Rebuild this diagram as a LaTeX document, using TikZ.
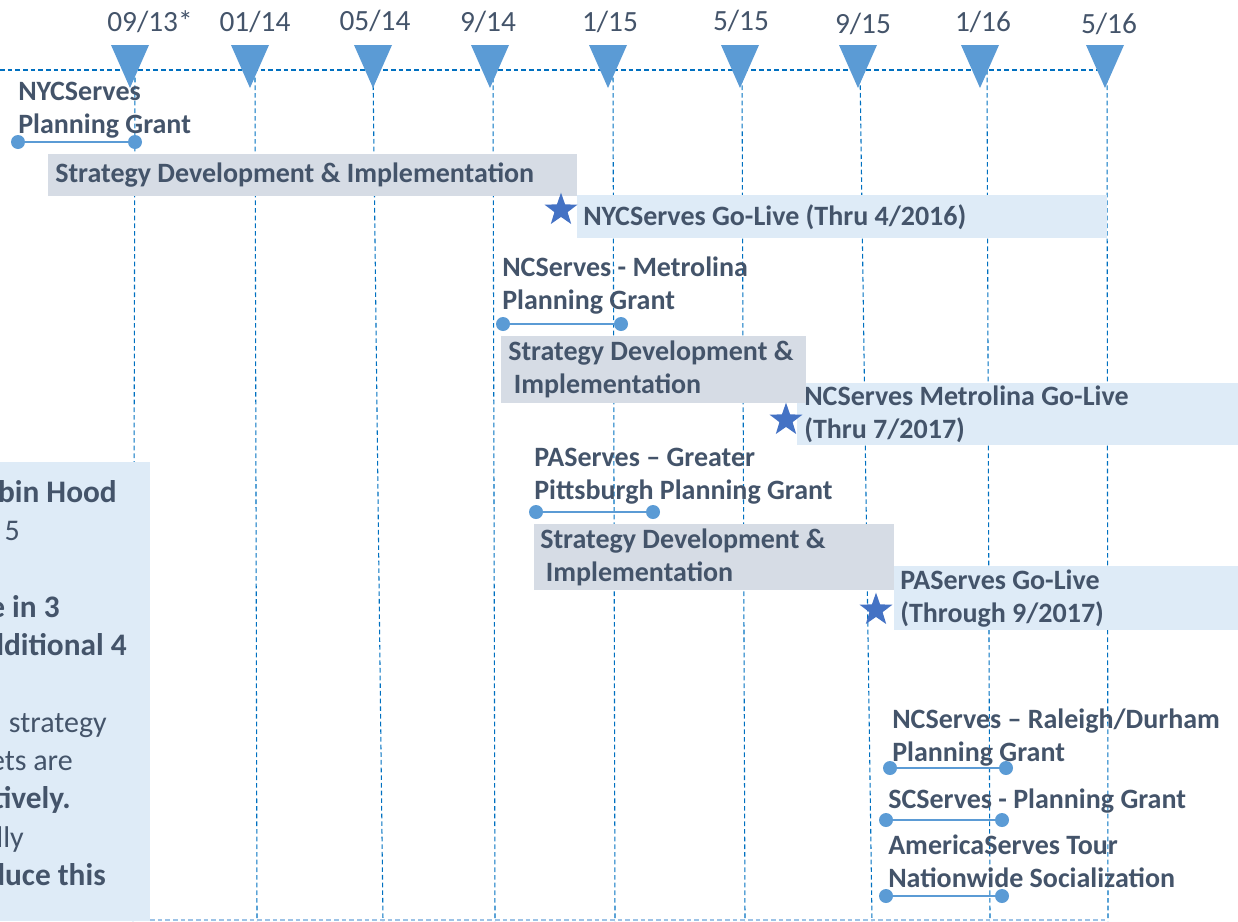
\documentclass[tikz,border=0pt]{standalone}
\usepackage{fontspec}
\setmainfont{Carlito}
\usetikzlibrary{shapes.geometric}

\definecolor{slate}{HTML}{44546A}
\definecolor{markblue}{HTML}{5B9BD5}
\definecolor{gridblue}{HTML}{0070C0}
\definecolor{stratgray}{HTML}{D6DCE5}
\definecolor{golivefill}{HTML}{DEEBF7}
\definecolor{starblue}{HTML}{4472C4}
\definecolor{edgeblue}{HTML}{9DC3E6}

\tikzset{
  datelabel/.style={anchor=base, inner sep=0, text=slate, font=\fontsize{22}{26}\selectfont},
  gridline/.style={draw=gridblue, line width=0.8pt, dash pattern=on 3.5pt off 2.25pt},
  grantlabel/.style={anchor=north west, align=left, inner sep=0, text=slate,
    font=\bfseries\fontsize{21}{24.75}\selectfont},
  grantdot/.style={circle, fill=markblue, minimum size=10.5pt, inner sep=0},
  grantbar/.style={draw=markblue, line width=1.5pt},
  stratbox/.style={fill=stratgray, anchor=north west, inner ysep=0, inner xsep=5.25pt, align=flush left,
    text=slate, font=\bfseries\fontsize{21}{24.75}\selectfont},
  golivebox/.style={stratbox, fill=golivefill},
  milestone/.style={star, star points=5, star point ratio=2.5, fill=starblue, draw=none,
    minimum size=26pt, inner sep=0},
  panelline/.style={anchor=base east, inner sep=0, text=slate}
}

\begin{document}
\begin{tikzpicture}[x=0.75pt,y=-0.75pt]
   \useasboundingbox (0,0) rectangle (1238,921);
   \clip (0,0) rectangle (1238,921);

   \draw[gridline] (0,70) -- (1107,70);
   \foreach \xt/\xb in {135/133,255/257,373/383,493/495,613/615,742/745,860/872,987/990,1107/1108}
             {
               \draw[gridline] (\xt,70) -- (\xb,921);
             }
   \draw[draw=edgeblue, line width=0.8pt, dash pattern=on 3.5pt off 2.25pt] (150,920) -- (1107,920);

   \foreach \x in {130,250,373,490,608,740,858,980,1105}
             {
               \fill[markblue] (\x-19,45) -- (\x+19,45) -- (\x,88) -- cycle;
             }
   \foreach \x/\y/\d [count=\i] in {150/31/09\slash13*,255/31/01\slash14,375/30/05\slash14,488/31/9\slash14,
             610/31/1\slash15,741/30/5\slash15,863/33/9\slash15,983/31/1\slash16,1109/33/5\slash16}
             {
               \node[datelabel] (date\i) at (\x,\y) {\d};
             }

   % NYCServes
   \node[grantlabel] (nycplan) at (18,82) {NYCServes\\Planning Grant};
   \node[grantdot] (nycA) at (18,142) {};
   \node[grantdot] (nycB) at (135,142) {};
   \draw[grantbar] (nycA) -- (nycB);
   \node[stratbox, text width=386.25pt, minimum height=31.5pt] (nycstrat) at (48,154)
        {Strategy Development \& Implementation};
   \node[golivebox, inner xsep=4.5pt, text width=388.5pt, minimum height=32.25pt] (nyclive) at (577,195)
        {NYCServes Go-Live (Thru 4/2016)};
   \node[milestone] (nycstar) at (561,210) {};

   % NCServes Metrolina
   \node[grantlabel] (ncplan) at (502,257) {NCServes - Metrolina\\Planning Grant};
   \node[grantdot] (ncA) at (503,324) {};
   \node[grantdot] (ncB) at (621,324) {};
   \draw[grantbar] (ncA) -- (ncB);
   \node[golivebox, text width=329.25pt, minimum height=46.5pt] (nclive) at (797,383)
        {NCServes Metrolina Go-Live\\(Thru 7/2017)};
   \node[stratbox, text width=218.25pt, minimum height=50.25pt] (ncstrat) at (501,336)
        {Strategy Development \&\\\hspace{0.2em}Implementation};
   \node[milestone] (ncstar) at (786,420) {};

   % PAServes
   \node[grantlabel] (paplan) at (534,448) {PAServes – Greater\\Pittsburgh Planning Grant};
   \node[grantdot] (paA) at (536,512) {};
   \node[grantdot] (paB) at (653,512) {};
   \draw[grantbar] (paA) -- (paB);
   \node[golivebox, inner xsep=4.5pt, text width=258pt, minimum height=48pt] (palive) at (894,566)
        {PAServes Go-Live\\(Through 9/2017)};
   \node[stratbox, inner xsep=4.5pt, text width=261pt, minimum height=49.5pt] (pastrat) at (534,524)
        {Strategy Development \&\\\hspace{0.2em}Implementation};
   \node[milestone] (pastar) at (876,610) {};

   % later grants
   \node[grantlabel] (rdplan) at (892,709) {NCServes – Raleigh/Durham\\Planning Grant};
   \node[grantdot] (rdA) at (890,768) {};
   \node[grantdot] (rdB) at (1006,768) {};
   \draw[grantbar] (rdA) -- (rdB);
   \node[grantlabel] (scplan) at (888,789) {SCServes - Planning Grant};
   \node[grantdot] (scA) at (886,820) {};
   \node[grantdot] (scB) at (1002,820) {};
   \draw[grantbar] (scA) -- (scB);
   \node[grantlabel] (tourplan) at (888,835) {AmericaServes Tour\\Nationwide Socialization};
   \node[grantdot] (tourA) at (886,896) {};
   \node[grantdot] (tourB) at (1002,896) {};
   \draw[grantbar] (tourA) -- (tourB);

   % side panel
   \fill[golivefill] (0,462) rectangle (150,921);
   \foreach \xe/\y/\f/\t [count=\i] in {117/502/\bfseries\fontsize{23.5}{27}/bin Hood,
             20/540/\mdseries\fontsize{22.5}{27}/5,
             60/617/\bfseries\fontsize{23.5}{27}/e in 3,
             127/655/\bfseries\fontsize{23.5}{27}/dditional 4,
             107/732/\mdseries\fontsize{22.5}{27}/strategy,
             73/770/\mdseries\fontsize{22.5}{27}/ets are,
             71/808/\bfseries\fontsize{23.5}{27}/tively.,
             24/847/\mdseries\fontsize{22.5}{27}/lly,
             106/885/\bfseries\fontsize{23.5}{27}/duce this}
             {
               \node[panelline] (panel\i) at (\xe,\y) {\f\selectfont\t};
             }
\end{tikzpicture}
\end{document}
